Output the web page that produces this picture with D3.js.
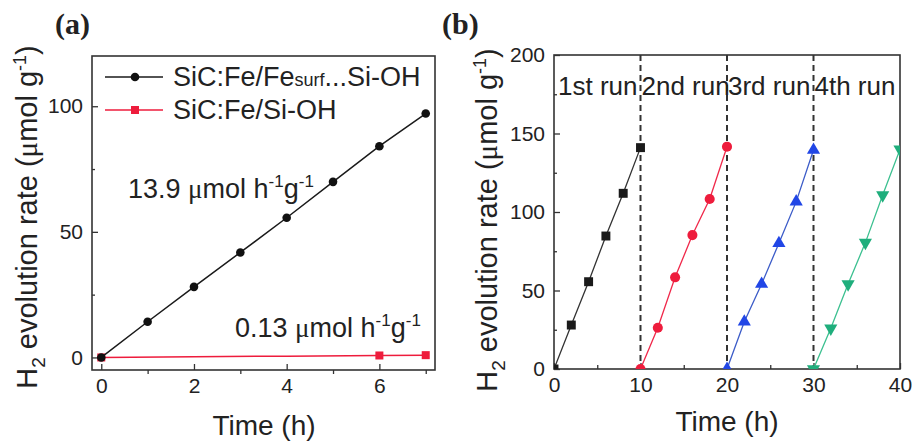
<!DOCTYPE html>
<html>
<head>
<meta charset="utf-8">
<script src="https://cdn.jsdelivr.net/npm/d3@7"></script>
<style>
body{margin:0;background:#fff;}
text{font-family:"Liberation Sans",Arial,sans-serif;fill:#222;}
</style>
</head>
<body>
<div id="CHART"></div>
<script>
// panel (a): H2 amount vs time, two catalysts
var aHours=[0,1,2,3,4,5,6,7];
var aFeSurf=[0,14.2,28.1,41.8,55.6,69.9,84.1,97.1];
var aRedHours=[0,2,4,6,7];
var aFeOnly=[0,0.26,0.52,0.78,0.91];
var aRedMarked=[0,6,7];
var aLegend=["SiC:Fe/Fe","SiC:Fe/Si-OH"];
var aXTicksA=[0,2,4,6], aXMinorA=[1,3,5,7];
var aYTicksA=[0,50,100], aYMinorA=[25,75];

// panel (b): four consecutive runs
var aRunNames=["1st run","2nd run","3rd run","4th run"];
var aRunTimes=[[0,2,4,6,8,10],[10,12,14,16,18,20],[20,22,24,26,28,30],[30,32,34,36,38,40]];
var aRunValues=[
	[0,28,55.6,84.7,111.9,141],
	[0,26.3,58.4,85.3,108.3,141.6],
	[0,30.1,54.1,80.1,106.6,139.5],
	[0,25.9,54.1,80.5,110.8,139.9]
];
var aRunColors=["#1a1a1a","#ee1c3c","#2146e6","#1fae7c"];
var aRunLineColors=["#333333","#f0284a","#3c5cc8","#3cc090"];
var aXTicksB=[0,10,20,30,40], aXMinorB=[5,15,25,35];
var aYTicksB=[0,50,100,150,200], aYMinorB=[25,75,125,175];

var svg=d3.select("#CHART").append("svg").attr("width",915).attr("height",441);

function DrawAxes(xScale,yScale,oT)
{
	var g=svg.append("g");
	var y0=yScale.range()[0], x0=xScale.range()[0];

	function style(sel){
		sel.select(".domain").remove();
		sel.selectAll("line").attr("stroke","#333").attr("stroke-width",1.3);
		sel.selectAll("text").attr("font-size",21).attr("font-family","Liberation Sans, Arial, sans-serif").attr("fill","#222");
	}

	g.append("g").attr("transform","translate(0,"+y0+")")
		.call(d3.axisBottom(xScale).tickValues(oT.xMajor).tickSize(-6).tickPadding(8)).call(style);
	g.append("g").attr("transform","translate(0,"+y0+")")
		.call(d3.axisBottom(xScale).tickValues(oT.xMinor).tickFormat("").tickSize(oT.xMinorLen)).call(style);
	g.append("g").attr("transform","translate("+x0+",0)")
		.call(d3.axisLeft(yScale).tickValues(oT.yMajor).tickSize(-6).tickPadding(9)).call(style);
	g.append("g").attr("transform","translate("+x0+",0)")
		.call(d3.axisLeft(yScale).tickValues(oT.yMinor).tickFormat("").tickSize(-3)).call(style);

	g.append("rect")
		.attr("x",x0).attr("y",yScale.range()[1])
		.attr("width",xScale.range()[1]-x0).attr("height",y0-yScale.range()[1])
		.attr("fill","none").attr("stroke","#333").attr("stroke-width",1.6);
}

function YTitle(x,y)
{
	var t=svg.append("text").attr("transform","translate("+x+","+y+") rotate(-90)")
		.attr("text-anchor","middle").attr("font-size",29);
	t.append("tspan").text("H");
	t.append("tspan").attr("font-size",19).attr("dy",8).text("2");
	t.append("tspan").attr("dy",-8).text(" evolution rate (");
	t.append("tspan").attr("font-family","Liberation Serif, serif").text("\u03bc");
	t.append("tspan").text("mol g");
	t.append("tspan").attr("font-size",18).attr("dy",-11).text("-1");
	t.append("tspan").attr("dy",11).text(")");
}

function RateNote(x,y,sValue)
{
	var t=svg.append("text").attr("x",x).attr("y",y).attr("font-size",27);
	t.append("tspan").text(sValue+" ");
	t.append("tspan").attr("font-family","Liberation Serif, serif").text("\u03bc");
	t.append("tspan").text("mol h");
	t.append("tspan").attr("font-size",17).attr("dy",-11).text("-1");
	t.append("tspan").attr("dy",11).text("g");
	t.append("tspan").attr("font-size",17).attr("dy",-11).text("-1");
}

// ---------- panel (a) ----------
var xA=d3.scaleLinear().domain([-0.2,7.2]).range([92,435]);
var yA=d3.scaleLinear().domain([-5,120]).range([370,56]);

DrawAxes(xA,yA,{xMajor:aXTicksA,xMinor:aXMinorA,xMinorLen:4,yMajor:aYTicksA,yMinor:aYMinorA});

var lineA=d3.line().x(function(d){return xA(d[0]);}).y(function(d){return yA(d[1]);});

svg.append("path").datum(d3.zip(aRedHours,aFeOnly)).attr("d",lineA)
	.attr("fill","none").attr("stroke","#ee1c3c").attr("stroke-width",1.5);
svg.append("g").selectAll("rect")
	.data(d3.zip(aRedHours,aFeOnly).filter(function(d){return aRedMarked.indexOf(d[0])>=0;}))
	.enter().append("rect")
	.attr("x",function(d){return xA(d[0])-4;}).attr("y",function(d){return yA(d[1])-4;})
	.attr("width",8).attr("height",8).attr("fill","#ee1c3c");

svg.append("path").datum(d3.zip(aHours,aFeSurf)).attr("d",lineA)
	.attr("fill","none").attr("stroke","#1a1a1a").attr("stroke-width",1.5);
svg.append("g").selectAll("circle")
	.data(d3.zip(aHours,aFeSurf)).enter().append("circle")
	.attr("cx",function(d){return xA(d[0]);}).attr("cy",function(d){return yA(d[1]);})
	.attr("r",4.3).attr("fill","#111");

// legend
var leg=svg.append("g");
leg.append("line").attr("x1",105).attr("x2",163).attr("y1",77).attr("y2",77).attr("stroke","#1a1a1a").attr("stroke-width",1.5);
leg.append("circle").attr("cx",135).attr("cy",77).attr("r",4.3).attr("fill","#111");
leg.append("line").attr("x1",105).attr("x2",163).attr("y1",110).attr("y2",110).attr("stroke","#ee1c3c").attr("stroke-width",1.5);
leg.append("rect").attr("x",131).attr("y",106).attr("width",8).attr("height",8).attr("fill","#ee1c3c");
var l1=leg.append("text").attr("x",173).attr("y",86).attr("font-size",27);
l1.append("tspan").text(aLegend[0]);
l1.append("tspan").attr("font-size",18).text("surf");
l1.append("tspan").text("...Si-OH");
leg.append("text").attr("x",173).attr("y",119).attr("font-size",27).text(aLegend[1]);

RateNote(128,198,"13.9");
RateNote(235,337,"0.13");

svg.append("text").attr("x",264).attr("y",435).attr("text-anchor","middle").attr("font-size",28).text("Time (h)");
YTitle(37,217);
svg.append("text").attr("x",55).attr("y",34).attr("font-size",30).attr("font-weight","bold")
	.style("font-family","Liberation Serif, serif").text("(a)");

// ---------- panel (b) ----------
var xB=d3.scaleLinear().domain([0,40]).range([554,900]);
var yB=d3.scaleLinear().domain([0,200]).range([369,55]);

DrawAxes(xB,yB,{xMajor:aXTicksB,xMinor:aXMinorB,xMinorLen:-4,yMajor:aYTicksB,yMinor:aYMinorB});

svg.append("defs").append("clipPath").attr("id","clipB").append("rect")
	.attr("x",554).attr("y",55).attr("width",346).attr("height",314);

// dashed separators between runs
svg.append("g").selectAll("line").data(aRunTimes.slice(1)).enter().append("line")
	.attr("x1",function(d){return xB(d[0]);}).attr("x2",function(d){return xB(d[0]);})
	.attr("y1",yB(200)).attr("y2",yB(0))
	.attr("stroke","#333").attr("stroke-width",2).attr("stroke-dasharray","6,4");

var lineB=d3.line().x(function(d){return xB(d[0]);}).y(function(d){return yB(d[1]);});
var aSymbols=[d3.symbolSquare,d3.symbolCircle,d3.symbolTriangle,d3.symbolTriangle];
var aSizes=[80,80,75,75];
var aRotate=[0,0,0,180];

var gRuns=svg.append("g").attr("clip-path","url(#clipB)");
aRunTimes.forEach(function(aT,i){
	var aPts=d3.zip(aT,aRunValues[i]);
	gRuns.append("path").datum(aPts).attr("d",lineB)
		.attr("fill","none").attr("stroke",aRunLineColors[i]).attr("stroke-width",1.3);
	gRuns.append("g").selectAll("path").data(aPts).enter().append("path")
		.attr("d",d3.symbol().type(aSymbols[i]).size(aSizes[i]))
		.attr("transform",function(d){return "translate("+xB(d[0])+","+yB(d[1])+") rotate("+aRotate[i]+")";})
		.attr("fill",aRunColors[i]);
});

svg.append("g").selectAll("text").data(aRunNames).enter().append("text")
	.attr("x",function(d,i){return xB(aRunTimes[i][0])+(i==0?4:1);})
	.attr("y",95).attr("font-size",26).text(function(d){return d;});

svg.append("text").attr("x",727).attr("y",431).attr("text-anchor","middle").attr("font-size",28).text("Time (h)");
YTitle(497,220);
svg.append("text").attr("x",442).attr("y",34).attr("font-size",30).attr("font-weight","bold")
	.style("font-family","Liberation Serif, serif").text("(b)");
</script>
</body>
</html>
